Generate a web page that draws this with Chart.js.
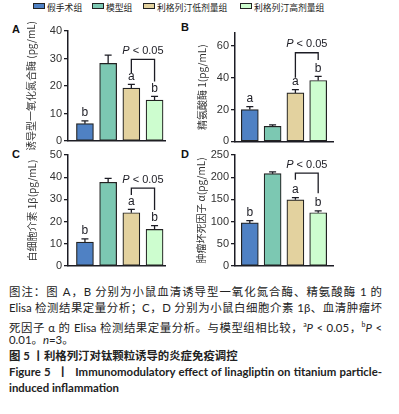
<!DOCTYPE html>
<html>
<head>
<meta charset="utf-8">
<script src="https://cdn.jsdelivr.net/npm/chart.js@4"></script>
<style>
  body { margin: 0; width: 399px; height: 414px; background: #fff; position: relative; overflow: hidden;
         font-family: "Liberation Sans", "Noto Sans CJK SC", sans-serif; color: #222; }
  canvas { position: absolute; }
  .legend { position: absolute; top: 1px; left: 0; width: 399px; height: 14px; font: 8.8px "Noto Sans CJK SC", sans-serif; color: #222; }
  .legend span.item { position: absolute; top: 0; white-space: nowrap; line-height: 14px; }
  .legend i { display: inline-block; width: 10px; height: 4px; border: 1px solid #222; margin-right: 2px; vertical-align: 2px; }
  .tag { position: absolute; font: bold 11px "Liberation Sans", sans-serif; color: #111; }
  .cap { position: absolute; left: 9px; width: 373px; font: 11.4px "Lato", "Noto Sans CJK SC", sans-serif; color: #222; }
  .cap div { height: 16px; line-height: 16px; text-align: justify; text-align-last: justify; white-space: nowrap; }
  .cap div.l { text-align-last: left; }
</style>
</head>
<body>
<div class="legend" id="legend"></div>
<div class="tag" style="left:12px;top:23px">A</div>
<div class="tag" style="left:181px;top:21px">B</div>
<div class="tag" style="left:12px;top:148px">C</div>
<div class="tag" style="left:181px;top:148px">D</div>

<canvas id="cA" width="190" height="130" style="left:0;top:20px"></canvas>
<canvas id="cB" width="150" height="130" style="left:188px;top:20px"></canvas>
<canvas id="cC" width="190" height="130" style="left:0;top:145px"></canvas>
<canvas id="cD" width="150" height="130" style="left:188px;top:145px"></canvas>

<div class="cap" style="top:284px">
  <div>图注：图 A，B 分别为小鼠血清诱导型一氧化氮合酶、精氨酸酶 1 的</div>
  <div>Elisa 检测结果定量分析；C，D 分别为小鼠白细胞介素 1β、血清肿瘤坏</div>
  <div>死因子 α 的 Elisa 检测结果定量分析。与模型组相比较，<sup style="font-size:7px">a</sup><i>P</i> &lt; 0.05，<sup style="font-size:7px">b</sup><i>P</i> &lt;</div>
  <div class="l">0.01。<i>n</i>=3。</div>
  <div class="l" style="font-weight:bold">图 5 丨利格列汀对钛颗粒诱导的炎症免疫调控</div>
  <div style="font-weight:bold">Figure 5 &nbsp;丨 &nbsp;Immunomodulatory effect of linagliptin on titanium particle-</div>
  <div class="l" style="font-weight:bold">induced inflammation</div>
</div>

<script>
// groups and colours
const groups = ['假手术组', '模型组', '利格列汀低剂量组', '利格列汀高剂量组'];
const barColors = ['#4f81c4', '#7cc8b2', '#e3d29f', '#cdfdcf'];

// A: iNOS
const inosMean = [6.3, 28.2, 19.2, 14.9];
const inosErr = [1.0, 3.0, 1.4, 1.3];
const inosSig = ['b', '', 'a', 'b'];
// B: Arg-1
const argMean = [20.0, 9.5, 30.4, 38.2];
const argErr = [1.8, 0.9, 2.1, 2.6];
const argSig = ['a', '', 'a', 'b'];
// C: IL-1β
const il1Mean = [10.8, 37.7, 24.0, 16.5];
const il1Err = [1.4, 1.8, 1.5, 1.7];
const il1Sig = ['b', '', 'a', 'b'];
// D: TNF-α
const tnfMean = [97, 208, 149, 120];
const tnfErr = [5, 4, 5, 4];
const tnfSig = ['b', '', 'a', 'b'];

// legend
const lg = document.getElementById('legend');
const lgLeft = [33, 92, 143, 240];
groups.forEach((g, i) => {
  const s = document.createElement('span');
  s.className = 'item';
  s.style.left = lgLeft[i] + 'px';
  s.innerHTML = '<i style="background:' + barColors[i] + '"></i>' + g;
  lg.appendChild(s);
});

const ink = '#1c1c24';

// error bars, significance letters and P bracket
const extras = {
  id: 'extras',
  afterDatasetsDraw(chart, args, opts) {
    const ctx = chart.ctx;
    const meta = chart.getDatasetMeta(0);
    const y = chart.scales.y;
    ctx.save();
    ctx.strokeStyle = ink;
    ctx.lineWidth = 1.3;
    meta.data.forEach((bar, i) => {
      const top = y.getPixelForValue(opts.mean[i] + opts.err[i]);
      ctx.beginPath();
      ctx.moveTo(bar.x, bar.y);
      ctx.lineTo(bar.x, top);
      ctx.moveTo(bar.x - 3.5, top);
      ctx.lineTo(bar.x + 3.5, top);
      ctx.stroke();
      if (opts.sig[i]) {
        ctx.fillStyle = ink;
        ctx.font = '12px "Liberation Sans", sans-serif';
        ctx.textAlign = 'center';
        ctx.textBaseline = 'bottom';
        ctx.fillText(opts.sig[i], bar.x, top - 2);
      }
    });
    const x3 = meta.data[2].x, x4 = meta.data[3].x;
    const bt = y.getPixelForValue(opts.bracket[0]);
    ctx.beginPath();
    ctx.moveTo(x3, y.getPixelForValue(opts.bracket[1]));
    ctx.lineTo(x3, bt);
    ctx.lineTo(x4, bt);
    ctx.lineTo(x4, y.getPixelForValue(opts.bracket[2]));
    ctx.stroke();
    ctx.fillStyle = ink;
    ctx.textBaseline = 'bottom';
    ctx.textAlign = 'left';
    const mid = (x3 + x4) / 2;
    ctx.font = 'italic 11px "Liberation Sans", sans-serif';
    const pw = ctx.measureText('P').width;
    ctx.font = '11px "Liberation Sans", sans-serif';
    const rw = ctx.measureText(' < 0.05').width;
    const sx = mid - (pw + rw) / 2;
    ctx.font = 'italic 11px "Liberation Sans", sans-serif';
    ctx.fillText('P', sx, bt - 3);
    ctx.font = '11px "Liberation Sans", sans-serif';
    ctx.fillText(' < 0.05', sx + pw, bt - 3);
    ctx.restore();
  }
};

function makePanel(id, mean, err, sig, o) {
  new Chart(document.getElementById(id), {
    type: 'bar',
    data: {
      datasets: [{
        data: mean.map((v, i) => ({ x: i + 1, y: v })),
        backgroundColor: barColors,
        borderColor: '#222',
        borderWidth: 1.2,
        borderSkipped: false,
        barThickness: 17
      }]
    },
    options: {
      responsive: false,
      animation: false,
      events: [],
      layout: { padding: o.pad },
      plugins: {
        legend: { display: false },
        tooltip: { enabled: false },
        extras: { mean, err, sig, bracket: o.bracket }
      },
      scales: {
        x: {
          type: 'linear', min: o.xmin, max: o.xmax, offset: false,
          ticks: { display: false },
          grid: { display: false },
          border: { display: true, color: ink, width: 1.5 },
          afterFit(s) { s.height = 0; }
        },
        y: {
          min: 0, max: o.ymax,
          ticks: { stepSize: o.step, includeBounds: false, color: '#333', padding: 2,
                   font: { family: '"Liberation Sans", sans-serif', size: 11 } },
          grid: { drawOnChartArea: false, drawTicks: true, tickLength: 4, color: ink, lineWidth: 1.3 },
          border: { display: true, color: ink, width: 1.5 },
          title: { display: true, text: o.title, color: '#333', padding: { top: o.tpad, bottom: 0 },
                   font: { family: '"Noto Sans CJK SC", sans-serif', size: 10 } },
          afterFit(s) { s.width = o.axisW; }
        }
      }
    },
    plugins: [extras]
  });
}

makePanel('cA', inosMean, inosErr, inosSig, {
  title: '诱导型一氧化氮合酶 (pg/mL)', ymax: 40, step: 10, axisW: 68, tpad: 25,
  pad: { left: 0, right: 25, top: 11, bottom: 9 }, xmin: 0.27, xmax: 4.45, bracket: [29.7, 24.7, 21.6]
});
makePanel('cB', argMean, argErr, argSig, {
  title: '精氨酸酶 1(pg/mL)', ymax: 68, step: 20, axisW: 47, tpad: 8,
  pad: { left: 0, right: 5, top: 13, bottom: 8 }, xmin: 0.35, xmax: 4.65, bracket: [55.6, 40, 51]
});
makePanel('cC', il1Mean, il1Err, il1Sig, {
  title: '白细胞介素 1β(pg/mL)', ymax: 50, step: 10, axisW: 68, tpad: 26,
  pad: { left: 0, right: 25, top: 10, bottom: 9 }, xmin: 0.27, xmax: 4.45, bracket: [35.1, 32, 25.2]
});
makePanel('cD', tnfMean, tnfErr, tnfSig, {
  title: '肿瘤坏死因子 α(pg/mL)', ymax: 250, step: 50, axisW: 47, tpad: 7,
  pad: { left: 0, right: 5, top: 10, bottom: 9 }, xmin: 0.35, xmax: 4.65, bracket: [209, 194, 164]
});
</script>
</body>
</html>
